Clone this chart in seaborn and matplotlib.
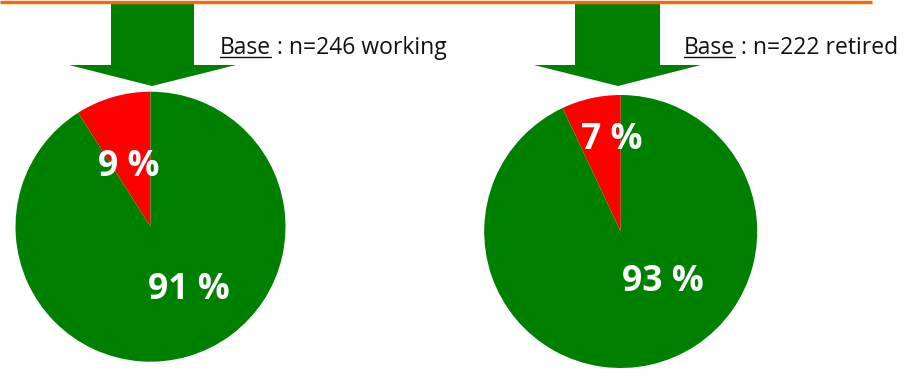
import matplotlib.pyplot as plt
import seaborn as sns
from matplotlib.patches import Polygon

# data
groups = ["working", "retired"]
bases = [246, 222]
no_share = [9, 7]
yes_share = [91, 93]
slice_colors = ["#FF0000", "#008000"]

sns.set_theme(style="white")
plt.rcParams["font.family"] = ["Open Sans", "DejaVu Sans"]

W, H = 910, 377
fig = plt.figure(figsize=(W / 100, H / 100), dpi=100)

# overlay in pixel coordinates for arrows, rule line and base text
bg = fig.add_axes([0, 0, 1, 1])
bg.set_xlim(0, W)
bg.set_ylim(H, 0)
bg.axis("off")
bg.plot([0, 872], [1.5, 1.5], color="#FF6600", lw=2.4, solid_capstyle="butt")

# layout per pie: centre x, centre y, radius (px), arrow shaft, label spots
layout = [
    dict(cx=150.5, cy=226.7, r=135, shaft=(111, 194), head=(69, 236), tip=152,
         text_x=220, spots=[(-0.16, 0.44), (0.285, -0.47)]),
    dict(cx=620.7, cy=231.5, r=136.5, shaft=(575, 660), head=(534, 701), tip=618,
         text_x=684, spots=[(-0.067, 0.67), (0.31, -0.37)]),
]

renderer = fig.canvas.get_renderer()
for i, lay in enumerate(layout):
    s0, s1 = lay["shaft"]
    h0, h1 = lay["head"]
    arrow = [(s0, 4), (s1, 4), (s1, 65), (h1, 65), (lay["tip"], 86),
             (h0, 65), (s0, 65)]
    bg.add_patch(Polygon(arrow, closed=True, color="#008000", lw=0))

    t = bg.text(lay["text_x"], 53.5, "Base", fontsize=16.5, color="#111111",
                va="baseline", ha="left")
    bb = t.get_window_extent(renderer)
    x_end = bb.x1 / fig.dpi * 100
    bg.plot([lay["text_x"], x_end], [56.5, 56.5], color="#111111", lw=1.0)
    bg.text(x_end, 53.5, f" : n={bases[i]} {groups[i]}", fontsize=16.5,
            color="#111111", va="baseline", ha="left")

    r = lay["r"]
    ax = fig.add_axes([(lay["cx"] - r) / W, (H - lay["cy"] - r) / H,
                       2 * r / W, 2 * r / H])
    wedges, _, autotexts = ax.pie(
        [no_share[i], yes_share[i]],
        colors=slice_colors,
        startangle=90,
        counterclock=True,
        autopct=lambda p: f"{p:.0f} %",
        textprops=dict(color="white", fontsize=25.5, fontweight="bold"),
        wedgeprops=dict(linewidth=0),
    )
    for txt, spot in zip(autotexts, lay["spots"]):
        txt.set_position(spot)
        txt.set_ha("center")
        txt.set_va("center")
    ax.set_xlim(-1, 1)
    ax.set_ylim(-1, 1)
    ax.set_aspect("equal")
    ax.axis("off")

fig.savefig("out.png", dpi=100)
